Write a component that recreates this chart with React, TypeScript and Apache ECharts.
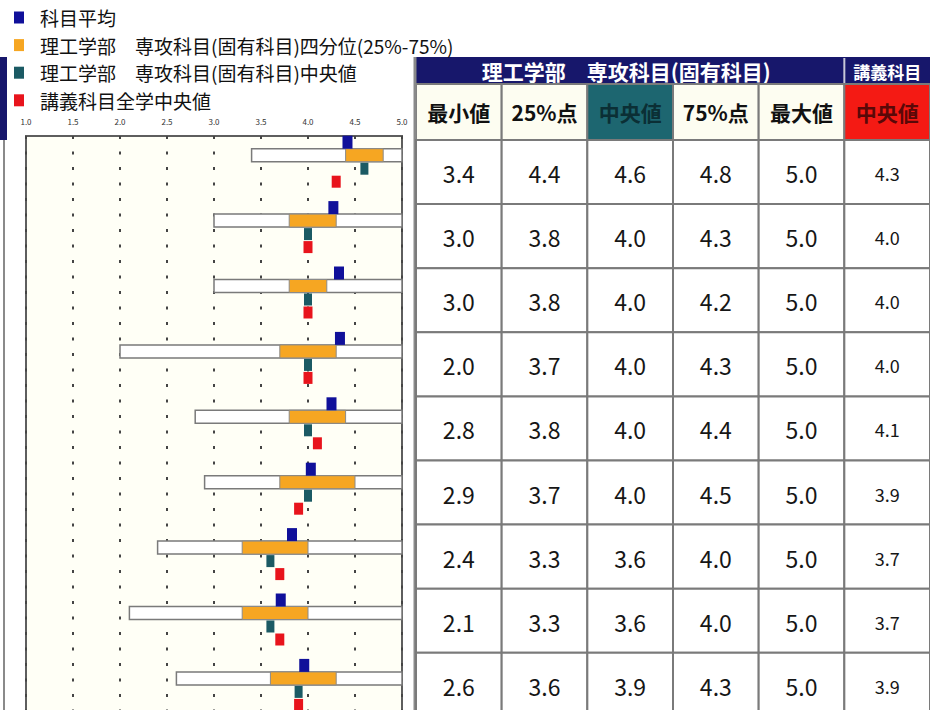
import React, { useEffect, useRef } from 'react';
import * as echarts from 'echarts';

// ---------- data ----------
const rowIds = ['1', '2', '3', '4', '5', '6', '7', '8', '9'];
const minVals = [3.4, 3.0, 3.0, 2.0, 2.8, 2.9, 2.4, 2.1, 2.6];
const q1Vals = [4.4, 3.8, 3.8, 3.7, 3.8, 3.7, 3.3, 3.3, 3.6];
const medianVals = [4.6, 4.0, 4.0, 4.0, 4.0, 4.0, 3.6, 3.6, 3.9];
const q3Vals = [4.8, 4.3, 4.2, 4.3, 4.4, 4.5, 4.0, 4.0, 4.3];
const maxVals = [5.0, 5.0, 5.0, 5.0, 5.0, 5.0, 5.0, 5.0, 5.0];
const lectureMedianVals = [4.3, 4.0, 4.0, 4.0, 4.1, 3.9, 3.7, 3.7, 3.9];
const meanVals = [4.42, 4.27, 4.33, 4.34, 4.25, 4.03, 3.83, 3.71, 3.96];
const xAxisMin = 1.0;
const xAxisMax = 5.0;
const xAxisStep = 0.5;

const legendNames = [
  '科目平均',
  '理工学部　専攻科目(固有科目)四分位(25%-75%)',
  '理工学部　専攻科目(固有科目)中央値',
  '講義科目全学中央値',
];
const tableHeaderGroup = '理工学部　専攻科目(固有科目)';
const tableHeaderLecture = '講義科目';
const columnHeaders = ['最小値', '25%点', '中央値', '75%点', '最大値', '中央値'];
const tableColumns = [minVals, q1Vals, medianVals, q3Vals, maxVals, lectureMedianVals];

// ---------- styling ----------
const FONT = '"Noto Sans CJK JP", "Noto Sans", sans-serif';
const NAVY = '#17176b';
const C_MEAN = '#10109a';
const C_IQR = '#f6a622';
const C_MED = '#1b5a64';
const C_LECT = '#e8141c';
const LINE = '#7a7a7a';

const CANVAS_H = 740; // taller than the 710 window: the reference is cropped at the bottom
const CHART_LEFT = 26;
const CHART_TOP = 136;
const CHART_W = 376;
const CHART_BAND = 65.4;
const BOX_OFFSET = -13.5;
const BOX_H = 13;

const TABLE_LEFT = 416;
const TABLE_W = 514;
const TABLE_TOP = 140;
const TABLE_ROW_H = 64.1;
const COL_W = TABLE_W / 6;

export default function App() {
  const ref = useRef<HTMLDivElement>(null);

  useEffect(() => {
    if (!ref.current) return;
    const chart = echarts.init(ref.current, null, { renderer: 'svg' });

    const rangeData = rowIds.map((_, i) => [i, minVals[i], maxVals[i]]);
    const iqrData = rowIds.map((_, i) => [i, q1Vals[i], q3Vals[i]]);
    const tableData: any[] = [];
    tableColumns.forEach((col, c) => {
      col.forEach((v, r) => tableData.push([c, r, v]));
    });

    const boxRender = (fill: string, stroke: string, lw: number) => (params: any, api: any) => {
      const idx = api.value(0);
      const lo = api.coord([api.value(1), idx]);
      const hi = api.coord([api.value(2), idx]);
      return {
        type: 'rect',
        shape: { x: lo[0], y: lo[1] + BOX_OFFSET - BOX_H / 2, width: hi[0] - lo[0], height: BOX_H },
        style: { fill, stroke, lineWidth: lw },
      };
    };

    const headerGraphics: any[] = [
      { type: 'rect', shape: { x: 0, y: 57, width: 7, height: 83 }, style: { fill: NAVY } },
      { type: 'line', shape: { x1: 4, y1: 140, x2: 4, y2: CANVAS_H }, style: { stroke: '#8a8a8a', lineWidth: 2 } },
      { type: 'rect', shape: { x: TABLE_LEFT, y: 57, width: TABLE_W, height: 27 }, style: { fill: NAVY } },
      {
        type: 'text',
        x: TABLE_LEFT + (5 * COL_W) / 2 - 4,
        y: 71,
        style: { text: tableHeaderGroup, fill: '#ffffff', font: `bold 21px ${FONT}`, textAlign: 'center', textVerticalAlign: 'middle' },
      },
      { type: 'line', shape: { x1: TABLE_LEFT + 5 * COL_W, y1: 58, x2: TABLE_LEFT + 5 * COL_W, y2: 84 }, style: { stroke: '#c8c8d8', lineWidth: 2 } },
      {
        type: 'text',
        x: TABLE_LEFT + 5.5 * COL_W,
        y: 71,
        style: { text: tableHeaderLecture, fill: '#ffffff', font: `bold 17px ${FONT}`, textAlign: 'center', textVerticalAlign: 'middle' },
      },
    ];
    columnHeaders.forEach((h, c) => {
      const fill = c === 2 ? '#1d6670' : c === 5 ? '#f41a14' : '#fdfdf1';
      const tcol = c === 2 ? '#0b2f35' : c === 5 ? '#5a0808' : '#111111';
      headerGraphics.push({
        type: 'rect',
        shape: { x: TABLE_LEFT + c * COL_W, y: 84, width: COL_W, height: TABLE_TOP - 84 },
        style: { fill, stroke: LINE, lineWidth: 2 },
      });
      headerGraphics.push({
        type: 'text',
        x: TABLE_LEFT + (c + 0.5) * COL_W,
        y: 112,
        style: { text: h, fill: tcol, font: `bold 21px ${FONT}`, textAlign: 'center', textVerticalAlign: 'middle' },
      });
    });
    headerGraphics.push({
      type: 'line',
      shape: { x1: TABLE_LEFT - 1, y1: 57, x2: TABLE_LEFT - 1, y2: CANVAS_H },
      style: { stroke: '#8a8a8a', lineWidth: 3 },
    });

    chart.setOption({
      animation: false,
      backgroundColor: '#ffffff',
      textStyle: { fontFamily: FONT },
      legend: {
        data: legendNames,
        orient: 'vertical',
        left: 9,
        top: 3,
        icon: 'rect',
        itemWidth: 10,
        itemHeight: 12,
        itemGap: 8.6,
        selectedMode: false,
        textStyle: { fontSize: 19, color: '#111111', fontFamily: FONT, padding: [0, 0, 0, 11], lineHeight: 19 },
      },
      grid: [
        {
          left: CHART_LEFT,
          top: CHART_TOP,
          width: CHART_W,
          height: CHART_BAND * rowIds.length,
          show: true,
          backgroundColor: '#fffff6',
          borderColor: '#5e5e5e',
          borderWidth: 2,
        },
        {
          left: TABLE_LEFT,
          top: TABLE_TOP,
          width: TABLE_W,
          height: TABLE_ROW_H * rowIds.length,
          show: false,
        },
      ],
      xAxis: [
        {
          type: 'value',
          gridIndex: 0,
          position: 'top',
          min: xAxisMin,
          max: xAxisMax,
          interval: xAxisStep,
          axisLine: { show: false },
          axisTick: { show: false },
          axisLabel: {
            fontSize: 8,
            color: '#333333',
            margin: 11,
            formatter: (v: number) => v.toFixed(1),
          },
          splitLine: { show: true, lineStyle: { color: '#444444', width: 2, type: [3, 12.5] } },
        },
        { type: 'category', gridIndex: 1, data: columnHeaders.map((_, i) => String(i)), show: false },
      ],
      yAxis: [
        { type: 'category', gridIndex: 0, data: rowIds, inverse: true, show: false },
        { type: 'category', gridIndex: 1, data: rowIds, inverse: true, show: false },
      ],
      graphic: headerGraphics,
      series: [
        {
          name: 'range',
          type: 'custom',
          xAxisIndex: 0,
          yAxisIndex: 0,
          data: rangeData,
          encode: { x: [1, 2], y: 0 },
          renderItem: boxRender('#ffffff', LINE, 1.5),
          z: 2,
        },
        {
          name: legendNames[1],
          type: 'custom',
          xAxisIndex: 0,
          yAxisIndex: 0,
          data: iqrData,
          encode: { x: [1, 2], y: 0 },
          itemStyle: { color: C_IQR, opacity: 1 },
          renderItem: boxRender(C_IQR, '#8a8a8a', 1),
          z: 3,
        },
        {
          name: legendNames[0],
          type: 'scatter',
          xAxisIndex: 0,
          yAxisIndex: 0,
          symbol: 'rect',
          symbolSize: [10, 13],
          symbolOffset: [0, -26.5],
          itemStyle: { color: C_MEAN, opacity: 1 },
          data: meanVals.map((v, i) => [v, i]),
          z: 4,
        },
        {
          name: legendNames[2],
          type: 'scatter',
          xAxisIndex: 0,
          yAxisIndex: 0,
          symbol: 'rect',
          symbolSize: [8, 12],
          symbolOffset: [0, 0],
          itemStyle: { color: C_MED, opacity: 1 },
          data: medianVals.map((v, i) => [v, i]),
          z: 4,
        },
        {
          name: legendNames[3],
          type: 'scatter',
          xAxisIndex: 0,
          yAxisIndex: 0,
          symbol: 'rect',
          symbolSize: [9, 12],
          symbolOffset: [0, 13],
          itemStyle: { color: C_LECT, opacity: 1 },
          data: lectureMedianVals.map((v, i) => [v, i]),
          z: 4,
        },
        {
          name: 'table',
          type: 'custom',
          xAxisIndex: 1,
          yAxisIndex: 1,
          data: tableData,
          encode: { x: 0, y: 1 },
          renderItem: (params: any, api: any) => {
            const c = api.value(0);
            const v = api.value(2);
            const p = api.coord([c, api.value(1)]);
            const w = api.size([1, 0])[0];
            const h = api.size([0, 1])[1];
            return {
              type: 'group',
              children: [
                {
                  type: 'rect',
                  shape: { x: p[0] - w / 2, y: p[1] - h / 2, width: w, height: h },
                  style: { fill: '#ffffff', stroke: LINE, lineWidth: 2 },
                },
                {
                  type: 'text',
                  x: p[0],
                  y: p[1] + 1,
                  style: {
                    text: Number(v).toFixed(1),
                    fill: '#161616',
                    font: `${c === 5 ? 18 : 23}px ${FONT}`,
                    textAlign: 'center',
                    textVerticalAlign: 'middle',
                  },
                },
              ],
            };
          },
          z: 2,
        },
      ],
    });

    return () => chart.dispose();
  }, []);

  return <div ref={ref} style={{ position: 'fixed', left: 0, top: 0, width: 930, height: CANVAS_H }} />;
}
